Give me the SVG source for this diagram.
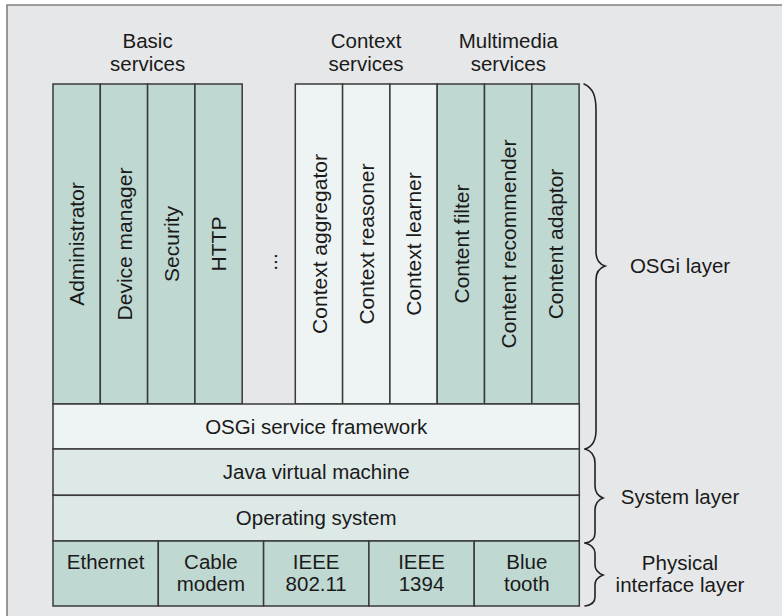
<svg xmlns="http://www.w3.org/2000/svg" width="782" height="616" viewBox="0 0 782 616">
  <style>
    text { font-family: "Liberation Sans", Arial, sans-serif; font-size: 20.5px; fill: #1a1a1a; }
    .mid { text-anchor: middle; }
    .vt { font-size: 21px; text-anchor: middle; }
    .cell { stroke: #3a3a3a; stroke-width: 1.5; }
    .dark { fill: #c0d8d2; }
    .light { fill: #eef4f3; }
    .sys { fill: #dde9e7; }
    .brace { fill: none; stroke: #222; stroke-width: 1.6; stroke-linecap: round; }
  </style>
  <defs>
    <!-- tall service bundle column, 47.3 wide -->
    <rect id="col" x="0" y="84" width="47.3" height="320"/>
  </defs>

  <!-- background panel with top and left rules -->
  <rect x="7" y="5" width="775" height="611" fill="#e6e7e8"/>
  <path d="M7,616 L7,5 L782,5" fill="none" stroke="#808080" stroke-width="1.6"/>

  <!-- group headings -->
  <g id="heading-basic">
    <text class="mid" x="147.6" y="48">Basic</text>
    <text class="mid" x="147.6" y="71">services</text>
  </g>
  <g id="heading-context">
    <text class="mid" x="366" y="48">Context</text>
    <text class="mid" x="366" y="71">services</text>
  </g>
  <g id="heading-multimedia">
    <text class="mid" x="508.3" y="48">Multimedia</text>
    <text class="mid" x="508.3" y="71">services</text>
  </g>

  <!-- basic service bundles -->
  <g id="administrator">
    <use href="#col" x="53" class="cell dark"/>
    <text class="vt" transform="translate(84.4,244) rotate(-90)">Administrator</text>
  </g>
  <g id="device-manager">
    <use href="#col" x="100.3" class="cell dark"/>
    <text class="vt" transform="translate(131.7,244) rotate(-90)">Device manager</text>
  </g>
  <g id="security">
    <use href="#col" x="147.6" class="cell dark"/>
    <text class="vt" transform="translate(179,244) rotate(-90)">Security</text>
  </g>
  <g id="http">
    <use href="#col" x="194.9" class="cell dark"/>
    <text class="vt" transform="translate(226.3,244) rotate(-90)">HTTP</text>
  </g>
  <g id="more-bundles">
    <text class="vt" transform="translate(277,262) rotate(-90)">...</text>
  </g>

  <!-- context service bundles -->
  <g id="context-aggregator">
    <use href="#col" x="295.3" class="cell light"/>
    <text class="vt" transform="translate(326.7,244) rotate(-90)">Context aggregator</text>
  </g>
  <g id="context-reasoner">
    <use href="#col" x="342.6" class="cell light"/>
    <text class="vt" transform="translate(374,244) rotate(-90)">Context reasoner</text>
  </g>
  <g id="context-learner">
    <use href="#col" x="389.9" class="cell light"/>
    <text class="vt" transform="translate(421.3,244) rotate(-90)">Context learner</text>
  </g>

  <!-- multimedia service bundles -->
  <g id="content-filter">
    <use href="#col" x="437.2" class="cell dark"/>
    <text class="vt" transform="translate(468.6,244) rotate(-90)">Content filter</text>
  </g>
  <g id="content-recommender">
    <use href="#col" x="484.5" class="cell dark"/>
    <text class="vt" transform="translate(515.9,244) rotate(-90)">Content recommender</text>
  </g>
  <g id="content-adaptor">
    <use href="#col" x="531.8" class="cell dark"/>
    <text class="vt" transform="translate(563.2,244) rotate(-90)">Content adaptor</text>
  </g>

  <!-- horizontal layers -->
  <g id="osgi-framework">
    <rect x="53" y="404" width="526.3" height="45" class="cell light"/>
    <text class="mid" x="316.2" y="433.5">OSGi service framework</text>
  </g>
  <g id="jvm">
    <rect x="53" y="449" width="526.3" height="46.3" class="cell sys"/>
    <text class="mid" x="316.2" y="479.3">Java virtual machine</text>
  </g>
  <g id="operating-system">
    <rect x="53" y="495.3" width="526.3" height="45.7" class="cell sys"/>
    <text class="mid" x="316.2" y="525">Operating system</text>
  </g>

  <!-- physical interfaces -->
  <g id="ethernet">
    <rect x="53" y="541" width="105.3" height="65" class="cell dark"/>
    <text class="mid" x="105.6" y="569.3">Ethernet</text>
  </g>
  <g id="cable-modem">
    <rect x="158.3" y="541" width="105.3" height="65" class="cell dark"/>
    <text class="mid" x="210.9" y="569.3">Cable</text>
    <text class="mid" x="210.9" y="591">modem</text>
  </g>
  <g id="ieee-80211">
    <rect x="263.6" y="541" width="105.3" height="65" class="cell dark"/>
    <text class="mid" x="316.2" y="569.3">IEEE</text>
    <text class="mid" x="316.2" y="591">802.11</text>
  </g>
  <g id="ieee-1394">
    <rect x="368.9" y="541" width="105.3" height="65" class="cell dark"/>
    <text class="mid" x="421.5" y="569.3">IEEE</text>
    <text class="mid" x="421.5" y="591">1394</text>
  </g>
  <g id="bluetooth">
    <rect x="474.2" y="541" width="105.1" height="65" class="cell dark"/>
    <text class="mid" x="526.8" y="569.3">Blue</text>
    <text class="mid" x="526.8" y="591">tooth</text>
  </g>

  <!-- layer braces -->
  <g id="braces">
    <path class="brace" d="M584,84 C593,88 596,96 596,110 L596,252 C596,260 599,264 605,266 C599,268 596,272 596,280 L596,430 C596,442 592,447 585,449"/>
    <path class="brace" d="M585,449 C592,451 595,455 595,463 L595,486 C595,492 598,496 603,498 C598,500 595,504 595,510 L595,533 C595,539 592,542 585,543"/>
    <path class="brace" d="M585,543 C592,545 595,548 595,553 L595,565 C595,570 598,573 603,575 C598,577 595,580 595,585 L595,597 C595,602 592,605 585,606"/>
  </g>

  <!-- layer labels -->
  <g id="label-osgi">
    <text class="mid" x="680" y="272.7">OSGi layer</text>
  </g>
  <g id="label-system">
    <text class="mid" x="680" y="504">System layer</text>
  </g>
  <g id="label-physical">
    <text class="mid" x="680" y="569.5">Physical</text>
    <text class="mid" x="680" y="592">interface layer</text>
  </g>
</svg>
